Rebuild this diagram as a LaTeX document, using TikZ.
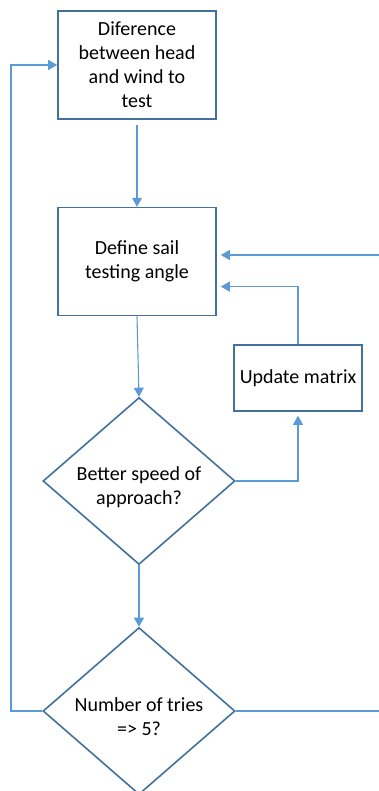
\documentclass[tikz,border=0pt]{standalone}
\usepackage{fontspec}
\setmainfont{Carlito}
\usepackage{tikz}
\usetikzlibrary{arrows.meta, calc, positioning, shapes.geometric}
\definecolor{BoxBlue}{HTML}{41719C}
\definecolor{LineBlue}{HTML}{5B9BD5}
\tikzset{%
  flow_block/.style={%
    rectangle,%
    draw=BoxBlue,%
    line width=1.6pt,%
    minimum width=158pt,%
    minimum height=108pt,%
    font={\fontsize{20pt}{24pt}\selectfont},%
    align=center%
  },
  small_block/.style={%
    flow_block,%
    minimum width=128pt,%
    minimum height=66pt,%
  },
  decision/.style={%
    diamond,%
    draw=BoxBlue,%
    line width=1.6pt,%
    inner sep=0pt,%
    minimum width=192pt,%
    minimum height=167pt,%
  },
  decision_text/.style={%
    font={\fontsize{20pt}{24pt}\selectfont},%
    align=center,%
    yshift=-6pt%
  },
  flow_path/.style={%
    color=LineBlue,%
    line width=1.1pt,%
    line join=miter,%
  },
  arrow/.style={-{Triangle[length=9pt, width=10pt]}},
}
\begin{document}
\begin{tikzpicture}[x=1pt, y=1pt]
    \useasboundingbox (0,0) rectangle (379,-791);

    \node [flow_block] (Diff) at (137,-65)
      {Diference\\between head\\and wind to\\test};
    \node [flow_block, below = 87 of Diff] (Define)
      {Define sail\\testing angle};
    \node [small_block] (Update) at (298,-378) {Update matrix};
    \node [decision,
      label={[decision_text]center:{Better speed of\\approach?}}]
      (Better) at (139,-481) {};
    \node [decision,
      label={[decision_text]center:{Number of tries\\=> 5?}}]
      (Tries) at (139,-711) {};

    \coordinate (from_right) at (379,-255);
    \coordinate (to_right) at (379,-711);
    \coordinate (back_left) at (11,-711);

    \draw [arrow, flow_path, shorten <=5pt]
      (Diff.south) -- (Define.north);
    \draw [arrow, flow_path, shorten >=4pt]
      (from_right) -- (from_right -| Define.east);
    \draw [arrow, flow_path, shorten >=4pt]
      (Update.north)
      |-
      ($(Define.east)+(0,-25)$);
    \draw [arrow, flow_path]
      (Define.south) -- (Better.north);
    \draw [arrow, flow_path, shorten >=4pt]
      (Better.east)
      -|
      (Update.south);
    \draw [arrow, flow_path]
      (Better.south) -- (Tries.north);
    \draw [arrow, flow_path]
      (Tries.west)
      --
      (back_left)
      |-
      (Diff.west);
    \draw [flow_path]
      (Tries.east) -- (to_right);
  \end{tikzpicture}
\end{document}
